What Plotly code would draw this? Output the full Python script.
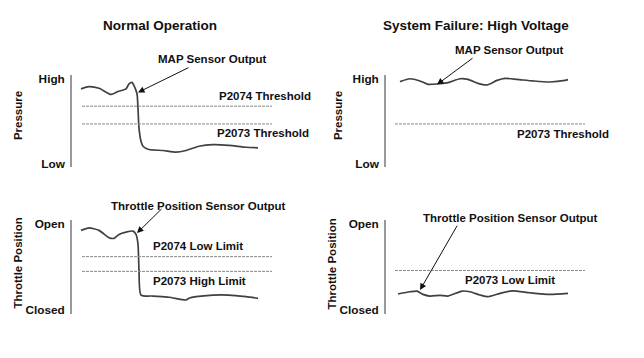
import plotly.graph_objects as go

# ---------------- data (time in arbitrary units 0-240, level 0-100) -------------
# Panel 1: Normal Operation - MAP sensor
p1_t = [9, 17, 27, 39, 46, 54, 57, 60, 62, 65, 66, 67, 69, 71, 77, 91, 104, 114, 127, 141, 157, 174, 186]
p1_v = [84.8, 87.2, 85.4, 78.7, 81.9, 84.8, 90.1, 91.8, 88.3, 79.5, 63.5, 42.2, 28.0, 22.7, 19.1, 18.1, 16.3, 18.1, 22.7, 24.5, 23.7, 21.6, 21.0]
p1_thr = {"P2074 Threshold": 66.0, "P2073 Threshold": 46.8}

# Panel 2: System Failure - MAP sensor
p2_t = [14, 24, 34, 42, 54, 62, 74, 82, 92, 101, 111, 119, 131, 147, 164, 179, 182]
p2_v = [92.6, 95.7, 93.3, 89.7, 90.4, 91.5, 95.7, 95.0, 90.7, 89.0, 93.9, 96.1, 95.0, 93.3, 92.2, 93.9, 94.7]
p2_thr = {"P2073 Threshold": 46.8}

# Panel 3: Normal Operation - throttle position
p3_t = [9, 17, 27, 37, 42, 47, 54, 61, 64, 66, 67, 69, 81, 97, 114, 117, 124, 141, 157, 174, 186]
p3_v = [89.2, 91.9, 89.2, 81.4, 80.7, 84.9, 87.4, 88.4, 84.9, 74.4, 46.3, 20.0, 18.9, 17.6, 14.7, 16.5, 18.2, 20.0, 20.0, 18.2, 16.5]
p3_thr = {"P2074 Low Limit": 61.1, "P2073 High Limit": 45.3}

# Panel 4: System Failure - throttle position
p4_t = [12, 24, 31, 37, 44, 54, 62, 76, 84, 94, 102, 114, 126, 144, 164, 182]
p4_v = [21.1, 23.5, 24.2, 20.7, 18.9, 19.7, 18.9, 24.2, 23.5, 20.0, 18.2, 21.8, 24.5, 22.4, 20.7, 21.8]
p4_thr = {"P2073 Low Limit": 46.3}

titles = ["Normal Operation", "System Failure: High Voltage"]
top_ticks = ["Low", "High"]
bottom_ticks = ["Closed", "Open"]
# ---------------------------------------------------------------------------------

W, H = 644, 358
CURVE = "#404040"
DASH = "#888888"
TXT = "#111111"

fig = go.Figure()

def px_dom(a, b, total):
    return [a / total, b / total]

xdoms = [px_dom(72, 312, W), px_dom(386, 626, W)]
ydoms = [[1 - 167 / H, 1 - 73 / H], [1 - 316 / H, 1 - 221 / H]]

panels = [
    dict(t=p1_t, v=p1_v, thr=p1_thr, col=0, row=0, x0=10, x1=200),
    dict(t=p2_t, v=p2_v, thr=p2_thr, col=1, row=0, x0=9, x1=199),
    dict(t=p3_t, v=p3_v, thr=p3_thr, col=0, row=1, x0=10, x1=200),
    dict(t=p4_t, v=p4_v, thr=p4_thr, col=1, row=1, x0=9, x1=199),
]

layout_axes = {}
for i, p in enumerate(panels, start=1):
    xa = "x" if i == 1 else f"x{i}"
    ya = "y" if i == 1 else f"y{i}"
    fig.add_trace(go.Scatter(x=p["t"], y=p["v"], mode="lines",
                             line=dict(color=CURVE, width=1.7, shape="spline", smoothing=0.6),
                             xaxis=xa, yaxis=ya, hoverinfo="skip", showlegend=False))
    for name, lvl in p["thr"].items():
        fig.add_trace(go.Scatter(x=[p["x0"], p["x1"]], y=[lvl, lvl], mode="lines",
                                 line=dict(color=DASH, width=1, dash="3px,1px"),
                                 xaxis=xa, yaxis=ya, hoverinfo="skip", showlegend=False))
    ticks = top_ticks if p["row"] == 0 else bottom_ticks
    xkey = "xaxis" if i == 1 else f"xaxis{i}"
    ykey = "yaxis" if i == 1 else f"yaxis{i}"
    layout_axes[xkey] = dict(domain=xdoms[p["col"]], range=[0, 240], visible=False,
                             anchor=ya, fixedrange=True)
    layout_axes[ykey] = dict(domain=ydoms[p["row"]], range=[0, 100], anchor=xa,
                             showline=True, linecolor="#999999", linewidth=1.6,
                             showgrid=False, zeroline=False,
                             tickvals=[4, 96], ticktext=ticks,
                             ticks="outside", ticklen=3, tickcolor="rgba(0,0,0,0)",
                             tickfont=dict(family="Liberation Sans", size=11.8, color=TXT, weight="bold"),
                             fixedrange=True)

fig.update_layout(**layout_axes)

F = dict(family="Liberation Sans", size=11.5, color=TXT, weight="bold")
FT = dict(family="Liberation Sans", size=13.5, color=TXT, weight="bold")
FA = dict(family="Liberation Sans", size=11.5, color=TXT, weight="bold")

ann = []
def text(s, x, y, xr, yr, font=F):
    ann.append(dict(text=s, x=x, y=y, xref=xr, yref=yr, showarrow=False, font=font,
                    xanchor="center", yanchor="middle"))

def ptext(s, xp, yp, font=F):
    ann.append(dict(text=s, x=xp / W, y=1 - yp / H, xref="paper", yref="paper", showarrow=False,
                    font=font, xanchor="center", yanchor="middle"))

def arrow(x, y, ax, ay, xr, yr):
    ann.append(dict(text="", x=x, y=y, ax=ax, ay=ay, xref=xr, yref=yr, axref=xr, ayref=yr,
                    showarrow=True, arrowhead=2, arrowsize=1.3, arrowwidth=1, arrowcolor="#111111",
                    standoff=0))

# titles and sensor labels (above the plotting areas, in paper units)
ptext(titles[0], 160, 23, FT)
ptext(titles[1], 476, 23, FT)
ptext("MAP Sensor Output", 212, 57)
ptext("MAP Sensor Output", 509, 48)
ptext("Throttle Position Sensor Output", 198, 206)
ptext("Throttle Position Sensor Output", 510, 219)

# panel 1
arrow(66, 80.9, 118, 108.5, "x", "y")
text("P2074 Threshold", 193, 76.6, "x", "y")
text("P2073 Threshold", 191, 37.2, "x", "y")
# panel 2
arrow(51, 89.4, 88, 119.1, "x2", "y2")
text("P2073 Threshold", 177, 36.2, "x2", "y2")
# panel 3
arrow(65, 86.3, 91, 113.7, "x3", "y3")
text("P2074 Low Limit", 126, 72.6, "x3", "y3")
text("P2073 High Limit", 127, 34.7, "x3", "y3")
# panel 4
arrow(34, 25.3, 72, 95.8, "x4", "y4")
text("P2073 Low Limit", 124, 35.8, "x4", "y4")

# rotated axis titles
for xp, yp, s in [(18, 115, "Pressure"), (338, 115, "Pressure"),
                  (18, 265, "Throttle Position"), (332, 266, "Throttle Position")]:
    ann.append(dict(text=s, x=xp / W, y=1 - yp / H, xref="paper", yref="paper", showarrow=False,
                    textangle=-90, font=FA, xanchor="center", yanchor="middle"))

fig.update_layout(annotations=ann, width=W, height=H, margin=dict(l=0, r=0, t=0, b=0),
                  paper_bgcolor="white", plot_bgcolor="white", showlegend=False)

fig.write_html("out.html", config={"displayModeBar": False},
               post_script="document.body.style.margin='0';document.body.style.overflow='hidden';")
